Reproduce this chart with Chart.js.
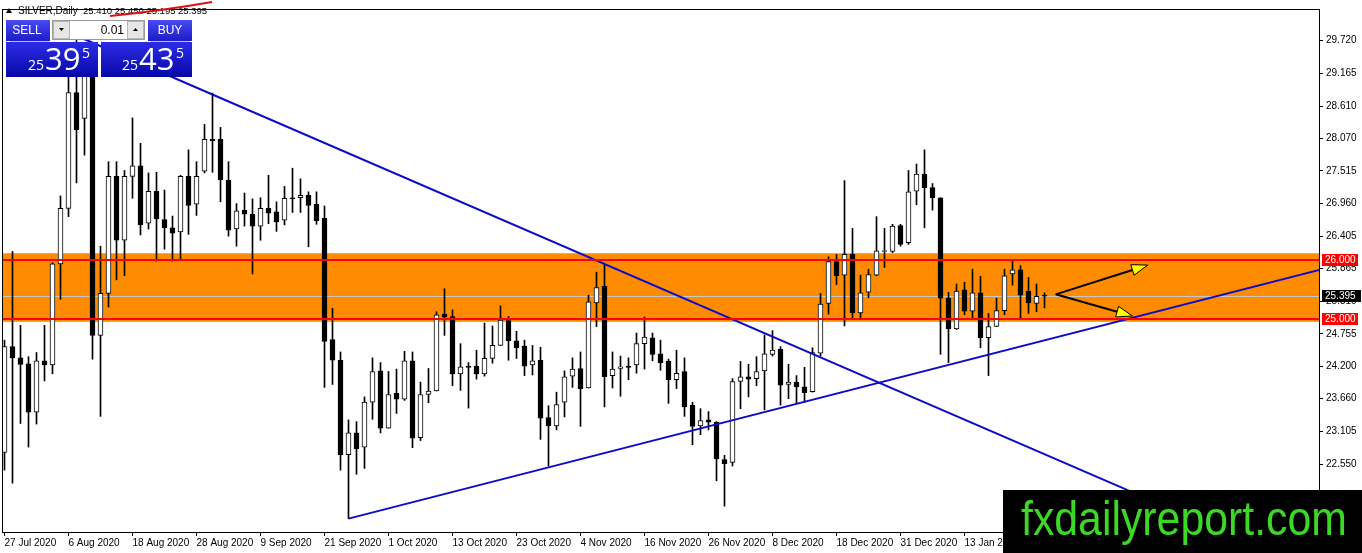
<!DOCTYPE html>
<html>
<head>
<meta charset="utf-8">
<script src="https://cdn.jsdelivr.net/npm/chart.js@4.4.1/dist/chart.umd.min.js"></script>
<style>
  html, body { margin: 0; padding: 0; background: #fff; overflow: hidden; }
  canvas { display: block; }
</style>
</head>
<body>
<canvas id="chart" width="1362" height="553"></canvas>
<script>
// SILVER daily candles, 27 Jul 2020 -> late Jan 2021
const opens = [
  22.75, 24.54, 24.35, 24.25, 23.43, 24.30, 24.23, 25.94, 26.88, 28.84,
  28.40, 29.30, 24.73, 25.44, 27.42, 26.34, 27.42, 27.60, 26.63, 27.17,
  26.69, 26.55, 26.48, 27.42, 26.95, 27.51, 28.05, 28.05, 27.36, 26.53,
  26.85, 26.78, 26.58, 26.88, 26.82, 26.68, 27.06, 27.06, 27.10, 26.95,
  26.71, 24.66, 24.31, 22.71, 23.08, 22.84, 23.60, 24.13, 23.16, 23.75,
  23.65, 24.30, 23.00, 23.73, 23.79, 25.09, 25.05, 24.08, 24.21, 24.21,
  24.08, 24.34, 24.56, 24.98, 24.64, 24.55, 24.23, 24.31, 23.34, 23.20,
  23.60, 24.04, 24.17, 23.84, 25.28, 25.56, 24.05, 24.17, 24.21, 24.23,
  24.59, 24.69, 24.42, 24.29, 23.98, 24.12, 23.55, 23.20, 23.30, 23.26,
  22.63, 22.58, 23.95, 24.03, 24.00, 24.13, 24.41, 24.50, 23.90, 23.94,
  23.86, 23.78, 24.43, 25.27, 25.98, 25.75, 26.10, 25.11, 25.46, 25.75,
  26.15, 26.15, 26.59, 26.30, 27.17, 27.46, 27.23, 27.06, 25.36, 24.84,
  25.50, 25.14, 25.45, 24.69, 24.88, 25.15, 25.77, 25.84, 25.48, 25.27,
  25.410
];
const highs = [
  24.65, 26.15, 24.90, 24.37, 24.44, 24.90, 25.96, 27.09, 29.15, 29.84,
  29.40, 29.45, 26.24, 27.67, 27.67, 27.52, 28.41, 27.98, 27.48, 27.49,
  27.19, 26.75, 27.44, 27.87, 27.67, 28.30, 28.83, 28.25, 27.67, 26.96,
  27.14, 27.04, 27.06, 27.44, 26.99, 27.25, 27.56, 27.38, 27.16, 27.16,
  26.92, 25.19, 24.45, 23.30, 23.27, 23.69, 24.35, 24.27, 24.12, 24.16,
  24.46, 24.45, 23.94, 24.17, 25.13, 25.52, 25.16, 24.59, 24.27, 24.48,
  24.94, 24.89, 25.23, 25.05, 24.80, 24.65, 24.56, 24.53, 23.54, 23.77,
  24.13, 24.35, 24.45, 25.41, 25.80, 25.94, 24.45, 24.38, 24.35, 24.77,
  25.04, 24.77, 24.65, 24.33, 24.48, 24.35, 23.60, 23.49, 23.44, 23.27,
  22.70, 24.00, 24.29, 24.24, 24.37, 24.74, 24.81, 24.54, 24.24, 24.05,
  24.19, 24.52, 25.44, 26.06, 26.10, 27.35, 26.54, 25.75, 25.85, 26.74,
  26.54, 26.61, 26.61, 27.52, 27.63, 27.87, 27.30, 27.06, 25.46, 25.60,
  25.63, 25.85, 25.73, 25.10, 25.36, 25.85, 25.99, 25.91, 25.71, 25.60,
  25.450
];
const lows = [
  22.45, 22.23, 23.24, 22.84, 23.23, 23.96, 24.08, 25.34, 26.74, 27.31,
  27.78, 24.33, 23.36, 25.21, 25.67, 25.74, 27.05, 26.43, 26.53, 25.99,
  26.19, 25.99, 26.02, 26.44, 26.76, 27.48, 27.49, 26.99, 26.41, 26.24,
  26.58, 25.77, 26.34, 26.62, 26.49, 26.60, 26.81, 26.81, 26.23, 26.61,
  23.85, 23.90, 22.45, 21.63, 22.38, 22.48, 23.31, 23.08, 23.16, 23.41,
  23.63, 22.83, 22.95, 23.59, 23.79, 24.73, 23.88, 23.80, 23.50, 23.99,
  24.04, 24.26, 24.56, 24.31, 24.34, 24.05, 24.06, 22.97, 22.52, 23.13,
  23.35, 23.85, 23.19, 23.84, 24.88, 23.52, 23.84, 23.70, 23.98, 24.09,
  24.16, 24.30, 24.14, 23.58, 23.83, 23.36, 22.88, 23.05, 23.13, 22.27,
  21.84, 22.52, 23.49, 23.69, 23.88, 23.47, 24.38, 23.55, 23.66, 23.58,
  23.60, 23.77, 24.38, 25.09, 25.59, 24.89, 25.02, 25.02, 25.37, 25.74,
  25.88, 26.13, 26.24, 26.27, 26.94, 26.55, 26.85, 24.41, 24.27, 24.83,
  25.08, 25.02, 24.52, 24.05, 24.88, 25.08, 25.58, 25.02, 25.10, 25.13,
  25.195
];
const closes = [
  24.54, 24.35, 24.24, 23.43, 24.30, 24.23, 25.94, 26.88, 28.84, 28.21,
  29.30, 24.73, 25.44, 27.42, 26.34, 27.42, 27.60, 26.60, 27.17, 26.70,
  26.55, 26.46, 27.42, 26.93, 27.42, 28.05, 28.02, 27.36, 26.51, 26.84,
  26.78, 26.58, 26.88, 26.80, 26.65, 27.05, 27.04, 27.10, 26.93, 26.67,
  24.63, 24.31, 22.71, 23.08, 22.81, 23.60, 24.12, 23.16, 23.73, 23.65,
  24.30, 22.99, 23.73, 23.79, 25.08, 25.04, 24.08, 24.20, 24.19, 24.08,
  24.34, 24.56, 24.99, 24.64, 24.52, 24.21, 24.30, 23.33, 23.20, 23.56,
  24.03, 24.16, 23.83, 25.30, 25.54, 24.03, 24.16, 24.20, 24.19, 24.59,
  24.70, 24.41, 24.27, 23.98, 24.09, 23.52, 23.19, 23.29, 23.26, 22.64,
  22.56, 23.95, 24.03, 23.99, 24.12, 24.42, 24.48, 23.89, 23.94, 23.86,
  23.76, 24.44, 25.26, 25.98, 25.74, 26.10, 25.11, 25.45, 25.76, 26.16,
  26.16, 26.58, 26.27, 27.16, 27.46, 27.23, 27.06, 25.36, 24.84, 25.48,
  25.14, 25.45, 24.69, 24.88, 25.15, 25.74, 25.84, 25.41, 25.28, 25.39,
  25.395
];

// axis labels
const priceTicks = [29.720, 29.165, 28.610, 28.070, 27.515, 26.960, 26.405,
                    25.865, 25.310, 24.755, 24.200, 23.660, 23.105, 22.550];
const tickBars = [0, 8, 16, 24, 32, 40, 48, 56, 64, 72, 80, 88, 96, 104, 112, 120, 128];
const dateTicks = ['27 Jul 2020', '6 Aug 2020', '18 Aug 2020', '28 Aug 2020', '9 Sep 2020',
                   '21 Sep 2020', '1 Oct 2020', '13 Oct 2020', '23 Oct 2020', '4 Nov 2020',
                   '16 Nov 2020', '26 Nov 2020', '8 Dec 2020', '18 Dec 2020', '31 Dec 2020',
                   '13 Jan 2021', '25 Jan 2021'];

// drawn objects (bar index, price)
const zone = [24.96, 26.12];
const levels = [26.000, 25.000];
const bid = 25.395;
const ask = 25.435;
const trendDown = [[9, 29.80], [150, 21.55]];
const trendUp = [[43, 21.63], [165, 25.86]];
const arrows = [
  [[131.4, 25.425], [142.9, 25.920]],
  [[131.4, 25.425], [141.0, 25.058]]
];

Chart.defaults.font.family = '"Liberation Sans", Arial, sans-serif';
Chart.defaults.font.size = 10;
Chart.defaults.color = '#000';

const bodies = opens.map((o, i) => ({ x: i, y: [o, closes[i]] }));
const wicks = lows.map((l, i) => ({ x: i, y: [l, highs[i]] }));
const toPts = arr => arr.map(p => ({ x: p[0], y: p[1] }));

function arrowHead(ctx, x1, y1, x2, y2) {
  const ang = Math.atan2(y2 - y1, x2 - x1);
  const len = 16, hw = 5.5;
  const bx = x2 - len * Math.cos(ang), by = y2 - len * Math.sin(ang);
  ctx.strokeStyle = '#000';
  ctx.lineWidth = 2;
  ctx.beginPath(); ctx.moveTo(x1, y1); ctx.lineTo(bx, by); ctx.stroke();
  ctx.beginPath();
  ctx.moveTo(x2, y2);
  ctx.lineTo(bx + hw * Math.sin(ang), by - hw * Math.cos(ang));
  ctx.lineTo(bx - hw * Math.sin(ang), by + hw * Math.cos(ang));
  ctx.closePath();
  ctx.fillStyle = '#ffff00';
  ctx.fill();
  ctx.lineWidth = 1;
  ctx.stroke();
}

function blueBox(ctx, x, y, w, h, top, bottom) {
  const g = ctx.createLinearGradient(0, y, 0, y + h);
  g.addColorStop(0, top);
  g.addColorStop(1, bottom);
  ctx.fillStyle = g;
  ctx.fillRect(x, y, w, h);
}

function drawPanel(ctx) {
  const last = opens.length - 1;
  // header line
  ctx.fillStyle = '#000';
  ctx.beginPath(); ctx.moveTo(6, 13); ctx.lineTo(12, 13); ctx.lineTo(9, 8); ctx.closePath(); ctx.fill();
  ctx.font = '10px "Liberation Sans"';
  ctx.textBaseline = 'middle';
  ctx.textAlign = 'left';
  ctx.fillText('SILVER,Daily', 18, 11);
  ctx.font = '9.5px "Liberation Sans"';
  const ohlc = [opens[last], highs[last], lows[last], closes[last]].map(v => v.toFixed(3));
  ctx.fillText(ohlc.join(' '), 83, 11);
  // red scribble over the header
  ctx.strokeStyle = '#e01010';
  ctx.lineWidth = 2;
  ctx.beginPath(); ctx.moveTo(110, 16); ctx.quadraticCurveTo(160, 11, 212, 2); ctx.stroke();

  // buttons
  blueBox(ctx, 6, 20, 44, 21, '#4a4af2', '#1c1cc8');
  blueBox(ctx, 148, 20, 44, 21, '#4a4af2', '#1c1cc8');
  blueBox(ctx, 6, 42, 92, 35, '#2c2ce6', '#0808a8');
  blueBox(ctx, 101, 42, 91, 35, '#2c2ce6', '#0808a8');
  ctx.strokeStyle = 'rgba(170,170,255,0.8)';
  ctx.lineWidth = 1;
  ctx.beginPath(); ctx.moveTo(10, 41.5); ctx.lineTo(49, 41.5); ctx.moveTo(150, 41.5); ctx.lineTo(190, 41.5); ctx.stroke();
  ctx.fillStyle = '#fff';
  ctx.font = '12px "Liberation Sans"';
  ctx.textAlign = 'center';
  ctx.fillText('SELL', 27, 30.5);
  ctx.fillText('BUY', 170, 30.5);

  // lot spinner
  ctx.fillStyle = '#fff';
  ctx.fillRect(52, 20, 93, 20);
  ctx.strokeStyle = '#9a9a9a';
  ctx.strokeRect(52.5, 20.5, 92, 19);
  ctx.fillStyle = '#e6e6e6';
  ctx.fillRect(53, 21, 17, 18);
  ctx.fillRect(127, 21, 17, 18);
  ctx.strokeStyle = '#b5b5b5';
  ctx.strokeRect(53.5, 21.5, 16, 17);
  ctx.strokeRect(127.5, 21.5, 16, 17);
  ctx.fillStyle = '#000';
  ctx.beginPath(); ctx.moveTo(59, 28); ctx.lineTo(64, 28); ctx.lineTo(61.5, 31); ctx.closePath(); ctx.fill();
  ctx.beginPath(); ctx.moveTo(133, 31); ctx.lineTo(138, 31); ctx.lineTo(135.5, 28); ctx.closePath(); ctx.fill();
  ctx.font = '12px "Liberation Sans"';
  ctx.textAlign = 'right';
  ctx.fillText('0.01', 124, 30.5);

  // bid / ask quotes
  const quote = (v, x0) => {
    const s = v.toFixed(3);
    ctx.fillStyle = '#fff';
    ctx.textAlign = 'left';
    ctx.textBaseline = 'alphabetic';
    ctx.font = '14px "Open Sans"';
    ctx.fillText(s.slice(0, 2), x0, 70);
    ctx.font = '31px "Open Sans"';
    ctx.fillText(s.slice(3, 5), x0 + 17, 70);
    ctx.font = '14px "Open Sans"';
    ctx.fillText(s.slice(5), x0 + 54, 58);
  };
  quote(bid, 28);
  quote(ask, 122);
}

const overlays = {
  id: 'overlays',
  beforeDraw(chart) {
    const ctx = chart.ctx;
    ctx.save();
    ctx.fillStyle = '#fff';
    ctx.fillRect(0, 0, chart.width, chart.height);
    ctx.restore();
  },
  beforeDatasetsDraw(chart) {
    const { ctx, chartArea: a, scales: { y } } = chart;
    ctx.save();
    const t = y.getPixelForValue(zone[1]), b = y.getPixelForValue(zone[0]);
    ctx.fillStyle = '#ff8c00';
    ctx.fillRect(a.left, t, a.right - a.left, b - t);
    const py = Math.round(y.getPixelForValue(bid)) + 0.5;
    ctx.strokeStyle = '#c8c8c8';
    ctx.lineWidth = 1;
    ctx.beginPath(); ctx.moveTo(a.left, py); ctx.lineTo(a.right, py); ctx.stroke();
    ctx.restore();
  },
  afterDatasetsDraw(chart) {
    const { ctx, chartArea: a, scales: { x, y } } = chart;
    ctx.save();
    ctx.strokeStyle = '#ff0000';
    ctx.lineWidth = 2;
    levels.forEach(v => {
      const py = Math.round(y.getPixelForValue(v));
      ctx.beginPath(); ctx.moveTo(a.left, py); ctx.lineTo(a.right, py); ctx.stroke();
    });
    arrows.forEach(([p, q]) => {
      arrowHead(ctx, x.getPixelForValue(p[0]), y.getPixelForValue(p[1]),
                x.getPixelForValue(q[0]), y.getPixelForValue(q[1]));
    });
    ctx.strokeStyle = '#000';
    ctx.lineWidth = 1;
    ctx.strokeRect(a.left + 0.5, a.top + 0.5, a.right - a.left, a.bottom - a.top);
    ctx.restore();
  },
  afterDraw(chart) {
    const { ctx, chartArea: a, scales: { y } } = chart;
    ctx.save();
    // price tags on the axis
    const tag = (v, bg, w) => {
      const py = Math.round(y.getPixelForValue(v));
      ctx.fillStyle = bg;
      ctx.fillRect(a.right + 3, py - 6, w, 12);
      ctx.fillStyle = '#fff';
      ctx.font = '10px "Liberation Sans"';
      ctx.textAlign = 'left';
      ctx.textBaseline = 'middle';
      ctx.fillText(v.toFixed(3), a.right + 6, py + 0.5);
    };
    levels.forEach(v => tag(v, '#ff0000', 36));
    tag(bid, '#000', 39);

    drawPanel(ctx);

    // watermark
    ctx.fillStyle = '#000';
    ctx.fillRect(1003, 490, 359, 63);
    ctx.font = '48px "Liberation Sans"';
    ctx.textAlign = 'left';
    ctx.textBaseline = 'alphabetic';
    const txt = 'fxdailyreport.com';
    const sx = 326 / ctx.measureText(txt).width;
    ctx.translate(1021, 535);
    ctx.scale(sx, 1);
    ctx.fillStyle = '#3bd925';
    ctx.fillText(txt, 0, 0);
    ctx.restore();
  }
};

new Chart(document.getElementById('chart'), {
  type: 'bar',
  data: {
    datasets: [
      {
        type: 'line', data: toPts(trendDown), borderColor: '#0c0cc8', borderWidth: 2,
        pointRadius: 0, order: 0
      },
      {
        type: 'line', data: toPts(trendUp), borderColor: '#0c0cc8', borderWidth: 2,
        pointRadius: 0, order: 0
      },
      {
        data: bodies, order: 1, grouped: false, barThickness: 5, minBarLength: 1,
        borderSkipped: false, borderWidth: 1, borderColor: '#000',
        backgroundColor: c => closes[c.dataIndex] >= opens[c.dataIndex] ? '#fff' : '#000'
      },
      {
        data: wicks, order: 2, grouped: false, barThickness: 1,
        borderWidth: 0, backgroundColor: '#000'
      }
    ]
  },
  options: {
    responsive: false,
    animation: false,
    devicePixelRatio: 1,
    events: [],
    layout: { padding: { left: 2, top: 1, right: 0, bottom: 0 } },
    plugins: { legend: { display: false }, tooltip: { enabled: false } },
    scales: {
      x: {
        type: 'linear',
        offset: false,
        min: -0.3125,
        max: -0.3125 + 1317 / 8,
        afterFit: s => { s.height = 21; },
        afterBuildTicks: s => { s.ticks = tickBars.map(v => ({ value: v })); },
        grid: { drawOnChartArea: false, offset: false, tickLength: 4, color: '#000' },
        border: { display: true, color: '#000' },
        ticks: {
          autoSkip: false, maxRotation: 0, align: 'start', padding: 1,
          callback: (v, i) => dateTicks[i]
        }
      },
      y: {
        position: 'right',
        min: 29.72 - 499 / 60,
        max: 29.72 + 32 / 60,
        afterFit: s => { s.width = 43; },
        afterBuildTicks: s => { s.ticks = priceTicks.map(v => ({ value: v })); },
        grid: { drawOnChartArea: false, tickLength: 4, color: '#000' },
        border: { display: true, color: '#000' },
        ticks: { autoSkip: false, padding: 3, callback: v => v.toFixed(3) }
      }
    }
  },
  plugins: [overlays]
});
</script>
</body>
</html>
